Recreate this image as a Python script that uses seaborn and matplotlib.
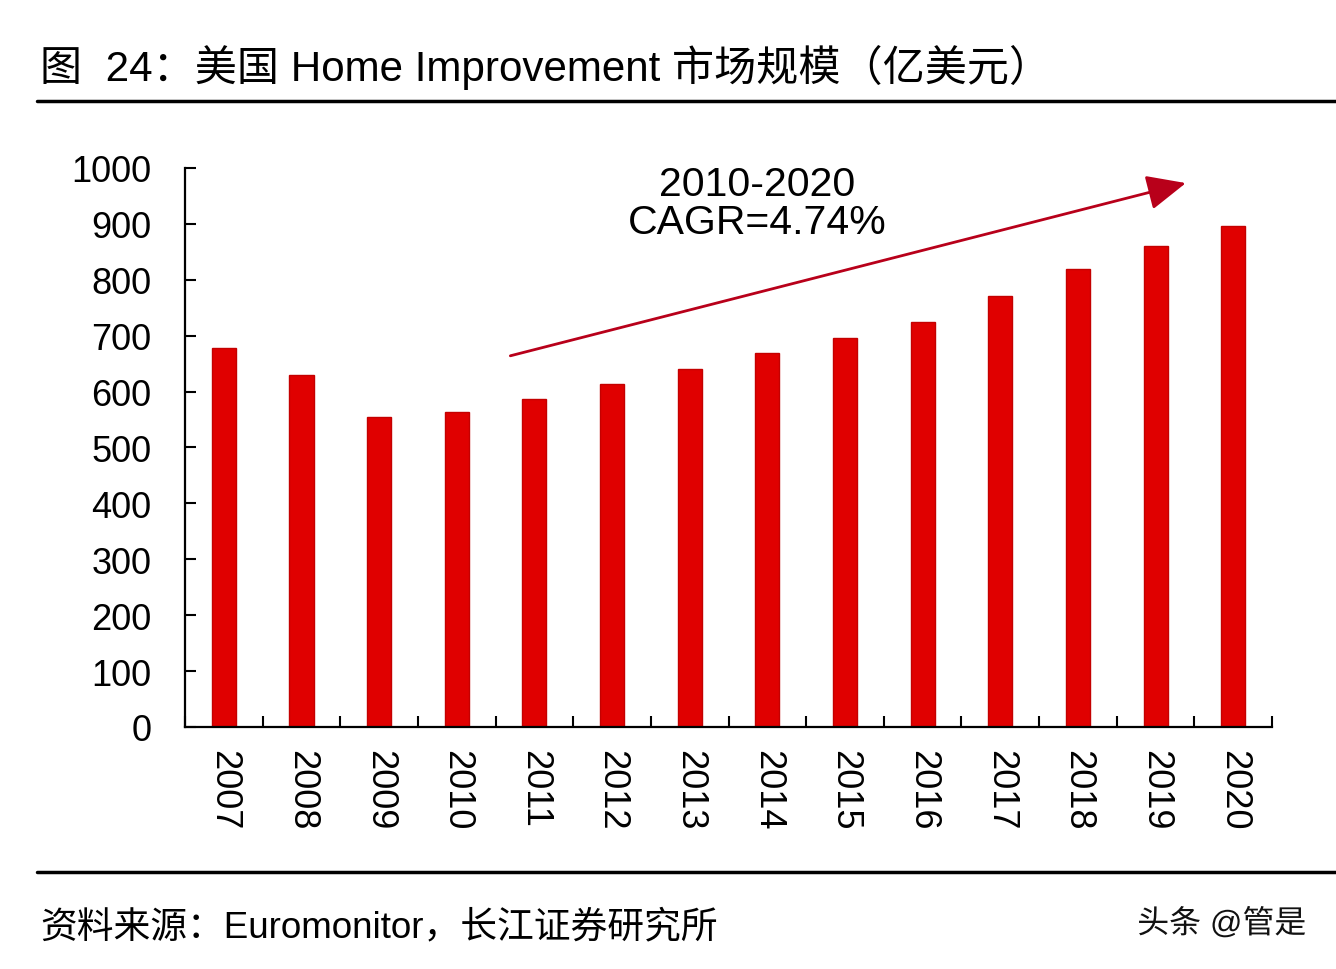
import pandas as pd
import numpy as np
import matplotlib
matplotlib.use('Agg')
import matplotlib.pyplot as plt
import seaborn as sns
from matplotlib.ticker import MultipleLocator
import matplotlib.patheffects as pe

# 数据（亿美元）
years = ['2007', '2008', '2009', '2010', '2011', '2012', '2013',
         '2014', '2015', '2016', '2017', '2018', '2019', '2020']
market_size = [678, 630, 555, 563, 587, 614, 640, 669, 696, 724, 771, 819, 860, 896]

title_text = '图  24：美国 Home Improvement 市场规模（亿美元）'
source_text = '资料来源：Euromonitor，长江证券研究所'
cagr_text = '2010-2020\nCAGR=4.74%'
watermark = '头条 @管是'

# 箭头起止（数据坐标）
arrow_start = (3.69, 664)
arrow_end = (12.39, 973)

sns.set_theme(style='white')
plt.rcParams['font.family'] = ['Liberation Sans', 'Noto Sans CJK SC', 'DejaVu Sans']

df = pd.DataFrame({'year': years, 'value': market_size})

fig = plt.figure(figsize=(13.36, 9.70), dpi=100)
fig.patch.set_facecolor('white')
ax = fig.add_axes([0.1385, 0.2495, 0.8136, 0.5763])

sns.barplot(data=df, x='year', y='value', color='#E00000', width=0.31,
            saturation=1, edgecolor='#C40000', linewidth=1.0, ax=ax)

ax.set_ylim(0, 1000)
ax.set_xlim(-0.5, len(years) - 0.5)
ax.yaxis.set_major_locator(MultipleLocator(100))
ax.set_xlabel('')
ax.set_ylabel('')

for side in ['top', 'right']:
    ax.spines[side].set_visible(False)
for side in ['left', 'bottom']:
    ax.spines[side].set_color('black')
    ax.spines[side].set_linewidth(1.6)

ax.tick_params(axis='y', direction='in', length=8, width=1.5, color='black',
               labelsize=26, labelcolor='black', pad=24, left=True)
ax.tick_params(axis='x', which='major', length=0, labelsize=26, labelcolor='black',
               pad=16, labelrotation=-90)
ax.set_xticks(np.arange(-0.5, len(years), 1.0), minor=True)
ax.tick_params(axis='x', which='minor', direction='in', length=8, width=1.5,
               color='black', bottom=True)
for lab in ax.get_xticklabels():
    lab.set_va('top')
    lab.set_ha('center')

# CAGR 箭头与文字
ax.annotate('', xy=arrow_end, xytext=arrow_start,
            arrowprops=dict(arrowstyle='-|>,head_length=2.0,head_width=0.9',
                            color='#B8001A', lw=2.0, shrinkA=0, shrinkB=0))
ax.text(6.87, 938, cagr_text, ha='center', va='center', fontsize=29.5,
        linespacing=1.0, color='black')

# 标题与分隔线
fig.text(0.030, 0.930, title_text, fontsize=30.3, ha='left', va='center', color='black')
fig.add_artist(plt.Line2D([0.028, 1.0], [0.895, 0.895], color='black', lw=2.5))
fig.add_artist(plt.Line2D([0.028, 1.0], [0.100, 0.100], color='black', lw=2.5))

# 资料来源
fig.text(0.030, 0.043, source_text, fontsize=26.5, ha='left', va='center', color='black')

# 水印
fig.text(0.978, 0.046, watermark, fontsize=23, ha='right', va='center', color='#111111',
         path_effects=[pe.withStroke(linewidth=3, foreground='white')])

fig.savefig('out.png', dpi=100, facecolor='white')
